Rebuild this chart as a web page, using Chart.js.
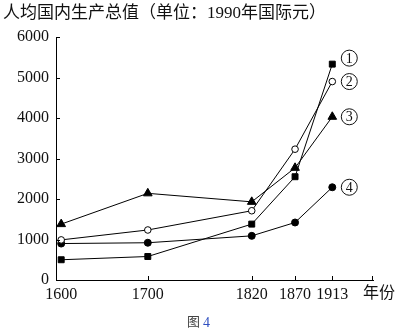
<!DOCTYPE html>
<html>
<head>
<meta charset="utf-8">
<script src="https://cdn.jsdelivr.net/npm/chart.js@4/dist/chart.umd.min.js"></script>
<style>
    html, body { margin:0; padding:0; background:#fff; }
    #wrap { width:401px; height:333px; position:relative; }
</style>
</head>
<body>
<div id="wrap"><canvas id="gdp" width="401" height="333"></canvas></div>
<script>
// 年份与各组数据（1990年国际元）
const years = [1600, 1700, 1820, 1870, 1913];
const serie1 = [500, 580, 1380, 2550, 5330];   // ① 方块
const serie2 = [990, 1235, 1710, 3230, 4900];  // ② 空心圆
const serie3 = [1380, 2140, 1930, 2770, 4030]; // ③ 三角
const serie4 = [900, 920, 1090, 1420, 2290];   // ④ 实心圆
const yTicks = [0, 1000, 2000, 3000, 4000, 5000, 6000];
const titleText = "人均国内生产总值（单位：1990年国际元）";
const xTitle = "年份";
const caption = ["图", "4"];

const SERIF = '"Liberation Serif", "Noto Sans CJK SC", serif';
const CJK = '"Liberation Serif", "Noto Sans CJK SC", sans-serif';

function pts(values){
    return values.map((v, i) => ({x: years[i], y: v}));
}
function serie(values, style, radius, fill){
    return {
        data: pts(values),
        borderColor: "#000",
        borderWidth: 1,
        pointStyle: style,
        pointRadius: radius,
        pointBorderWidth: 1,
        pointBorderColor: "#000",
        pointBackgroundColor: fill,
        tension: 0
    };
}

// 标题、向内的刻度线、曲线末端的编号
const decor = {
    id: "decor",
    afterDraw(chart){
        const ctx = chart.ctx;
        const xs = chart.scales.x, ys = chart.scales.y;
        const area = chart.chartArea;
        ctx.save();
        ctx.fillStyle = "#000";
        ctx.strokeStyle = "#000";
        ctx.lineWidth = 1;
        // 刻度线
        ctx.beginPath();
        yTicks.forEach(v => {
            if(v === 0) return;
            const y = Math.round(ys.getPixelForValue(v)) + 0.5;
            ctx.moveTo(area.left, y);
            ctx.lineTo(area.left + 4, y);
        });
        years.slice(1).forEach(v => {
            const x = Math.round(xs.getPixelForValue(v)) + 0.5;
            ctx.moveTo(x, area.bottom);
            ctx.lineTo(x, area.bottom - 4);
        });
        ctx.moveTo(area.right - 0.5, area.bottom);
        ctx.lineTo(area.right - 0.5, area.bottom - 4);
        ctx.stroke();

        // 标题
        ctx.font = '17px ' + CJK;
        ctx.textBaseline = "middle";
        ctx.textAlign = "left";
        ctx.fillStyle = "#111";
        ctx.fillText(titleText, 3, 14);

        // x轴名称
        ctx.font = '16px ' + CJK;
        ctx.fillText(xTitle, 363, 294);

        // 图号
        ctx.font = '13px ' + CJK;
        ctx.fillStyle = "#444";
        ctx.fillText(caption[0], 187, 323);
        ctx.fillStyle = "#2f4fc0";
        ctx.font = '14px ' + SERIF;
        ctx.fillText(caption[1], 203, 323);

        // 编号 ①..④
        ctx.fillStyle = "#111";
        ctx.strokeStyle = "#111";
        chart.data.datasets.forEach((ds, i) => {
            const meta = chart.getDatasetMeta(i);
            const last = meta.data[meta.data.length - 1];
            const cx = last.x + 17;
            const cy = last.y + (i === 0 ? -6 : 0);
            ctx.beginPath();
            ctx.arc(cx, cy, 8, 0, Math.PI * 2);
            ctx.stroke();
            ctx.font = '14px ' + SERIF;
            ctx.textAlign = "center";
            ctx.textBaseline = "middle";
            ctx.fillText(String(i + 1), cx, cy + 1);
        });
        ctx.restore();
    }
};

new Chart(document.getElementById("gdp"), {
    type: "line",
    data: {
        datasets: [
            serie(serie1, "rect", 4.2, "#000"),
            serie(serie2, "circle", 3.3, "#fff"),
            serie(serie3, "triangle", 5, "#000"),
            serie(serie4, "circle", 3.5, "#000")
        ]
    },
    options: {
        responsive: false,
        animation: false,
        devicePixelRatio: 1,
        layout: { padding: { left: 0, top: 37, right: 28, bottom: 0 } },
        plugins: { legend: { display: false }, tooltip: { enabled: false }, title: { display: false } },
        scales: {
            x: {
                type: "linear",
                min: 1594,
                max: 1960,
                afterBuildTicks: s => { s.ticks = years.map(v => ({value: v})); },
                afterFit: s => { s.height = 53; },
                grid: { display: false, drawTicks: false },
                border: { display: true, color: "#000", width: 1 },
                ticks: {
                    color: "#111",
                    padding: 5,
                    maxRotation: 0,
                    autoSkip: false,
                    font: { family: SERIF, size: 16 },
                    callback: v => String(v)
                }
            },
            y: {
                min: 0,
                max: 6000,
                afterBuildTicks: s => { s.ticks = yTicks.map(v => ({value: v})); },
                afterFit: s => { s.width = 56; },
                grid: { display: false, drawTicks: false },
                border: { display: true, color: "#000", width: 1 },
                ticks: {
                    color: "#111",
                    padding: 7,
                    font: { family: SERIF, size: 16 },
                    callback: v => String(v)
                }
            }
        }
    },
    plugins: [decor]
});
</script>
</body>
</html>
